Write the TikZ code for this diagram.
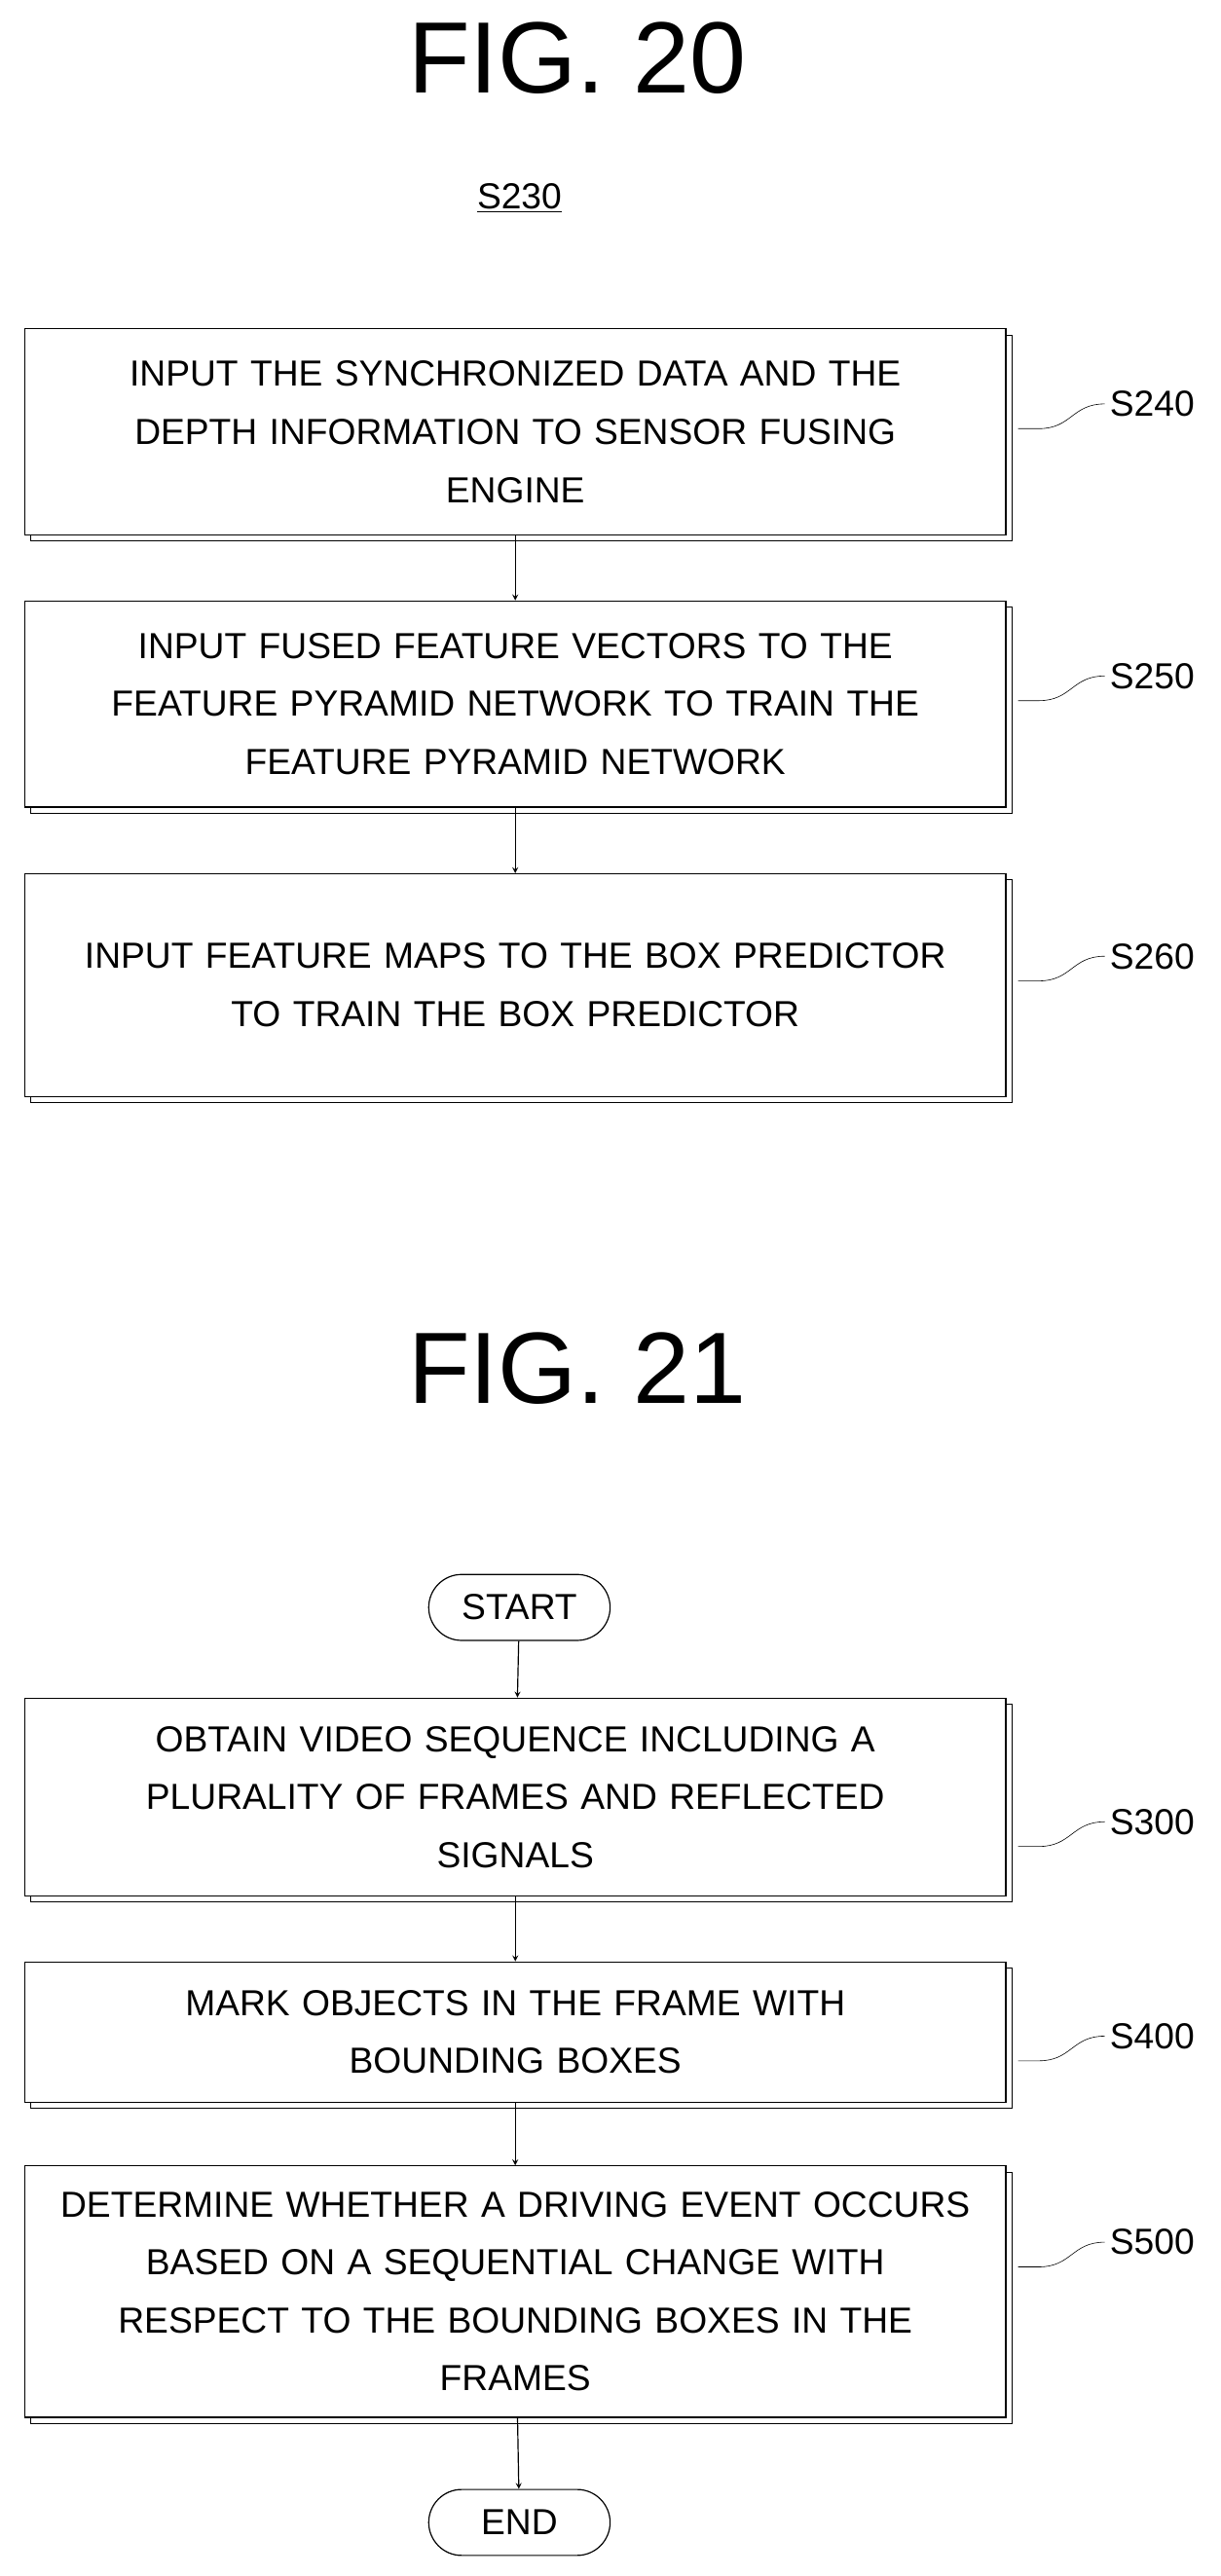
\documentclass[tikz,border=0pt]{standalone}
\usepackage{fontspec}
\setmainfont{Liberation Sans}
\usetikzlibrary{shadows}
\begin{document}
\begin{tikzpicture}
    % Styles
    \tikzstyle{stepbox} = [rectangle, minimum width=23.8cm, text width=23cm, align=center, draw=black, thick, fill=white, font=\fontsize{25}{40}\selectfont, copy shadow={opacity=1, fill=white, draw=black, thick, shadow xshift=0.15cm, shadow yshift=-0.15cm}]
    \tikzstyle{term} = [rectangle, rounded corners=0.8cm, minimum width=4.4cm, minimum height=1.6cm, draw=black, thick, font=\fontsize{25}{30}\selectfont]
    \tikzstyle{steplabel} = [font=\fontsize{25}{30}\selectfont, anchor=west]
    \tikzstyle{figtitle} = [font=\fontsize{70}{80}\selectfont]
    \tikzstyle{arrow} = [thick,->,>=stealth]
    \tikzstyle{leader} = [thin]

    \useasboundingbox (0,0) rectangle (29.6,-62.5);

    % FIG. 20
    \node (fig20) [figtitle] at (14,-1.4) {FIG.\ 20};
    \node (s230) [font=\fontsize{25}{30}\selectfont] at (12.6,-4.8) {\underline{S230}};
    \node (b240) [stepbox, minimum height=5cm] at (12.5,-10.48) {INPUT THE SYNCHRONIZED DATA AND THE\\DEPTH INFORMATION TO SENSOR FUSING\\ENGINE};
    \node (b250) [stepbox, minimum height=5cm] at (12.5,-17.08) {INPUT FUSED FEATURE VECTORS TO THE\\FEATURE PYRAMID NETWORK TO TRAIN THE\\FEATURE PYRAMID NETWORK};
    \node (b260) [stepbox, minimum height=5.4cm] at (12.5,-23.9) {INPUT FEATURE MAPS TO THE BOX PREDICTOR\\TO TRAIN THE BOX PREDICTOR};
    \node (l240) [steplabel] at (26.8,-9.8) {S240};
    \node (l250) [steplabel] at (26.8,-16.4) {S250};
    \node (l260) [steplabel] at (26.8,-23.2) {S260};

    \draw [arrow] (b240) -- (b250);
    \draw [arrow] (b250) -- (b260);

    % FIG. 21
    \node (fig21) [figtitle] at (14,-33.2) {FIG.\ 21};
    \node (start) [term] at (12.6,-39) {START};
    \node (b300) [stepbox, minimum height=4.8cm] at (12.5,-43.6) {OBTAIN VIDEO SEQUENCE INCLUDING A\\PLURALITY OF FRAMES AND REFLECTED\\SIGNALS};
    \node (b400) [stepbox, minimum height=3.4cm] at (12.5,-49.3) {MARK OBJECTS IN THE FRAME WITH\\BOUNDING BOXES};
    \node (b500) [stepbox, minimum height=6.1cm] at (12.5,-55.6) {DETERMINE WHETHER A DRIVING EVENT OCCURS\\BASED ON A SEQUENTIAL CHANGE WITH\\RESPECT TO THE BOUNDING BOXES IN THE\\FRAMES};
    \node (end) [term] at (12.6,-61.2) {END};
    \node (l300) [steplabel] at (26.8,-44.2) {S300};
    \node (l400) [steplabel] at (26.8,-49.4) {S400};
    \node (l500) [steplabel] at (26.8,-54.4) {S500};

    \draw [arrow] (start) -- (b300);
    \draw [arrow] (b300) -- (b400);
    \draw [arrow] (b400) -- (b500);
    \draw [arrow] (b500) -- (end);

    % Leaders
    \foreach \b/\l in {b240/l240, b250/l250, b260/l260, b300/l300, b400/l400, b500/l500}
        \draw [leader] (\l.west) .. controls +(-0.8,0) and +(0.8,0) .. ++(-1.6,-0.6) -- ++(-0.5,0);
\end{tikzpicture}
\end{document}
